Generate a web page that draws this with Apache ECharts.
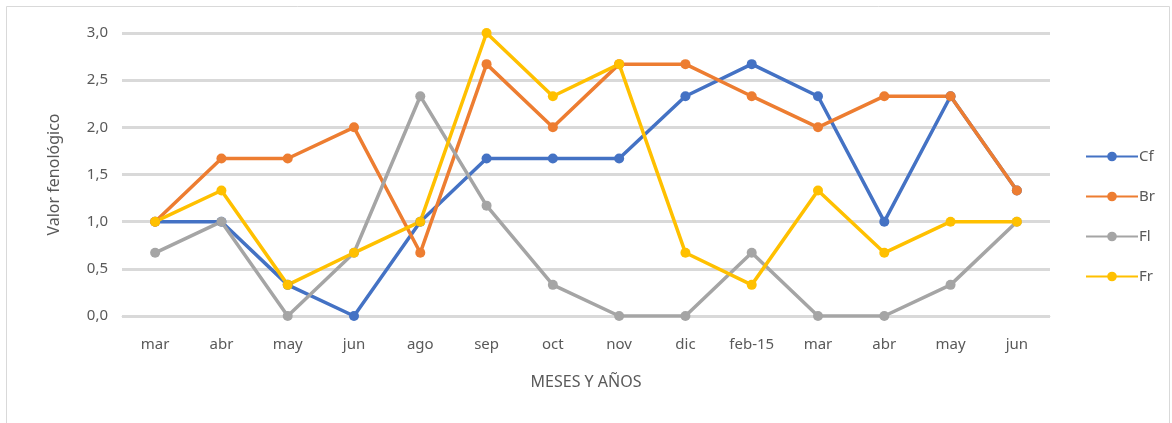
<!DOCTYPE html>
<html>
<head>
<meta charset="utf-8">
<script src="https://cdn.jsdelivr.net/npm/echarts@6/dist/echarts.min.js"></script>
<style>
  html, body { margin: 0; padding: 0; background: #fff; }
  #chart { width: 1172px; height: 423px; }
</style>
</head>
<body>
<div id="chart"></div>
<script>
  var meses = ['mar', 'abr', 'may', 'jun', 'ago', 'sep', 'oct', 'nov', 'dic', 'feb-15', 'mar', 'abr', 'may', 'jun'];
  var cf = [1.0, 1.0, 0.33, 0, 1.0, 1.67, 1.67, 1.67, 2.33, 2.67, 2.33, 1.0, 2.33, 1.33];
  var br = [1.0, 1.67, 1.67, 2.0, 0.67, 2.67, 2.0, 2.67, 2.67, 2.33, 2.0, 2.33, 2.33, 1.33];
  var fl = [0.67, 1.0, 0, 0.67, 2.33, 1.17, 0.33, 0, 0, 0.67, 0, 0, 0.33, 1.0];
  var fr = [1.0, 1.33, 0.33, 0.67, 1.0, 3.0, 2.33, 2.67, 0.67, 0.33, 1.33, 0.67, 1.0, 1.0];

  var chart = echarts.init(document.getElementById('chart'));

  function serie(nombre, datos) {
    return {
      name: nombre,
      type: 'line',
      data: datos,
      symbol: 'circle',
      symbolSize: 10,
      lineStyle: { width: 3.5 },
      emphasis: { disabled: true }
    };
  }

  var option = {
    backgroundColor: '#fff',
    color: ['#4472C4', '#ED7D31', '#A5A5A5', '#FFC000'],
    textStyle: { fontFamily: 'Noto Sans', color: '#595959' },
    graphic: [{
      type: 'rect',
      shape: { x: 6.5, y: 6.5, width: 1163, height: 430 },
      style: { fill: 'none', stroke: '#d9d9d9', lineWidth: 1 },
      silent: true
    }],
    grid: { left: 122, right: 122, top: 33, bottom: 107 },
    legend: {
      orient: 'vertical',
      left: 1080,
      top: 144,
      itemWidth: 52,
      itemHeight: 12,
      itemGap: 25,
      data: ['Cf', 'Br', 'Fl', 'Fr'],
      textStyle: { fontSize: 15, color: '#595959', fontFamily: 'Noto Sans', padding: [0, 0, 0, -4] }
    },
    xAxis: {
      type: 'category',
      data: meses,
      boundaryGap: true,
      name: 'MESES Y AÑOS',
      nameLocation: 'middle',
      nameGap: 58,
      nameTextStyle: { fontSize: 16, color: '#595959' },
      axisLine: { lineStyle: { color: '#d9d9d9', width: 1 } },
      axisTick: { show: false },
      axisLabel: { fontSize: 15, color: '#595959', margin: 21, interval: 0 }
    },
    yAxis: {
      type: 'value',
      min: 0,
      max: 3,
      interval: 0.5,
      name: 'Valor fenológico',
      nameLocation: 'middle',
      nameGap: 60,
      nameTextStyle: { fontSize: 16, color: '#595959' },
      axisLine: { show: false },
      axisTick: { show: false },
      splitLine: { lineStyle: { color: '#d9d9d9', width: 3 } },
      axisLabel: {
        fontSize: 15,
        color: '#595959',
        margin: 14,
        formatter: function (v) { return v.toFixed(1).replace('.', ','); }
      }
    },
    series: [serie('Cf', cf), serie('Br', br), serie('Fl', fl), serie('Fr', fr)]
  };

  chart.setOption(option);
  window.addEventListener('resize', function () { chart.resize(); });
</script>
</body>
</html>
